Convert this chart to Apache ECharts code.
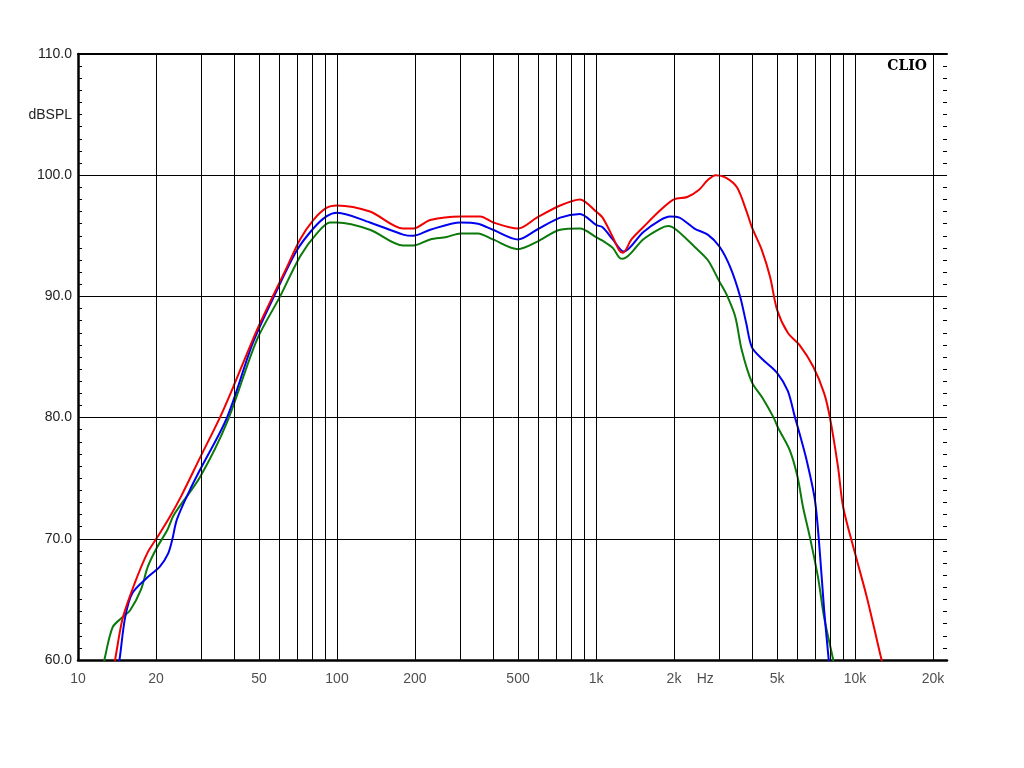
<!DOCTYPE html>
<html><head><meta charset="utf-8">
<script src="https://cdn.jsdelivr.net/npm/echarts@6/dist/echarts.min.js"></script>
<style>html,body{margin:0;padding:0;background:#fff}#c{width:1024px;height:768px}</style>
</head><body><div id="c"></div>
<script>
// Frequency (Hz) and level (dB SPL)
const redFreq = [13.6,13.9,14.9,16.6,18.5,20.2,22.6,25,29.6,35.3,39.7,49,56.5,64,72,81,91,100,134,180,197,229,300,357,401,500,591,727,867,1000,1060,1160,1230,1270,1370,1520,1770,2000,2250,2500,2700,2900,3170,3500,3800,4000,4370,4700,5000,5500,6100,6900,7600,8000,8600,9000,10000,11100,12600,13000];
const redDb   = [59.0,60.0,63.5,66.4,68.8,70.1,71.8,73.5,76.7,80.0,82.5,87.2,90.0,92.4,94.7,96.3,97.3,97.5,97.0,95.6,95.6,96.3,96.6,96.6,96.1,95.6,96.5,97.5,98.0,97.0,96.5,94.9,93.8,93.6,94.7,95.7,97.1,98.0,98.2,98.8,99.6,100.0,99.8,99.0,97.1,95.7,93.8,91.6,88.9,87.0,86.0,84.2,82.0,80.0,75.9,72.6,68.8,65.2,60.2,59.0];

const blueFreq = [14.2,14.5,15.2,16.2,18.5,20.7,22.3,23.1,24.1,27,29.6,37.6,47.4,58.6,70,81,91,100,134,180,197,229,300,350,400,500,591,727,867,1000,1060,1160,1280,1520,1770,1930,2100,2400,2700,3000,3300,3600,3800,4000,4400,5000,5500,5850,6050,6500,7000,7300,7600,7900,8050];
const blueDb   = [59.0,60.2,63.5,65.5,66.8,67.7,68.8,69.9,71.6,74.0,75.7,80.0,86.2,90.5,93.8,95.6,96.6,96.9,96.1,95.1,95.0,95.5,96.1,96.0,95.5,94.7,95.5,96.5,96.8,95.9,95.7,94.7,93.7,95.3,96.3,96.6,96.5,95.6,95.1,94.1,92.4,90.0,87.8,85.8,84.8,83.7,82.2,80.1,79.0,76.5,73.2,69.1,64.1,60.2,58.5];

const greenFreq = [12.4,12.7,13.6,14.8,15.9,17.5,18.6,20.2,22.1,23.5,29.6,37.6,49,60.3,72,83.6,94,100,134,180,197,229,265,300,350,400,500,591,727,867,1000,1060,1160,1230,1270,1520,1770,1900,2040,2400,2700,3000,3200,3450,3650,4000,4400,4850,5060,5600,6000,6300,6700,7200,7600,8200,8400];
const greenDb   = [59.0,60.2,62.7,63.5,64.1,65.8,67.7,69.3,70.7,72.0,75.1,79.6,86.4,90.0,93.3,95.2,96.1,96.1,95.5,94.2,94.2,94.7,94.9,95.2,95.2,94.7,93.9,94.5,95.5,95.6,94.9,94.6,94.0,93.2,93.1,94.7,95.6,95.8,95.5,94.1,93.0,91.2,90.1,88.3,85.6,82.9,81.6,80.0,79.1,77.3,75.1,72.6,70.1,66.8,63.5,60.2,59.0];

const gridFreqs = [20,30,40,50,60,70,80,90,100,200,300,400,500,600,700,800,900,1000,2000,3000,4000,5000,6000,7000,8000,9000,10000,20000];
const xTickFreqs  = [10,20,50,100,200,500,1000,2000,5000,10000,20000];
const xTickLabels = ['10','20','50','100','200','500','1k','2k','5k','10k','20k'];
const unitFreq = 2640, unitLabel = 'Hz';

const zip = (f, d) => f.map((v, i) => [v, d[i]]);
const chart = echarts.init(document.getElementById('c'), null, {renderer: 'canvas'});
const txt = '#222';
const font = 'Liberation Sans, Arial, sans-serif';
const curve = (name, f, d, color) => ({
  name, type: 'line', data: zip(f, d), smooth: 0.3, showSymbol: false, symbol: 'none',
  lineStyle: {color, width: 2}, clip: true, animation: false, silent: true, z: 3
});
const hideX = {axisLabel: {show: false}, axisTick: {show: false}, splitLine: {show: false}};
const tickAxis = pos => ({
  type: 'value', min: 60, max: 110, interval: 10, position: pos, offset: -4,
  axisLine: {show: false},
  axisTick: {show: true, inside: false, length: 4, lineStyle: {color: '#000'}},
  minorTick: {show: true, splitNumber: 10, length: 4, lineStyle: {color: '#000'}},
  splitLine: {show: false}, axisLabel: {show: false}
});
chart.setOption({
  animation: false,
  backgroundColor: '#fff',
  grid: {left: 78, right: 77, top: 54, bottom: 108, show: false},
  xAxis: [{
    type: 'log', logBase: 10, min: 10, max: 22650, position: 'bottom', ...hideX,
    axisLine: {show: true, onZero: false, lineStyle: {color: '#000', width: 2.5}}
  }, {
    type: 'log', logBase: 10, min: 10, max: 22650, position: 'top', ...hideX,
    axisLine: {show: true, onZero: false, lineStyle: {color: '#000', width: 2}}
  }],
  yAxis: [{
    type: 'value', min: 60, max: 110, interval: 10, position: 'left',
    axisLine: {show: true, onZero: false, lineStyle: {color: '#000', width: 2.5}},
    axisTick: {show: false}, minorTick: {show: false},
    splitLine: {show: true, lineStyle: {color: '#000', width: 1}},
    axisLabel: {formatter: v => v.toFixed(1), margin: 6, fontSize: 14, color: txt, fontFamily: font}
  }, tickAxis('left'), tickAxis('right')],
  graphic: [
    {type: 'text', style: {text: 'dBSPL', x: 72, y: 115, align: 'right', verticalAlign: 'middle', font: '14px "Liberation Sans", Arial, sans-serif', fill: txt}},
    {type: 'text', style: {text: 'CLIO', x: 927, y: 66, align: 'right', verticalAlign: 'middle', font: 'bold 14px "DejaVu Serif", serif', fill: '#000'}}
  ],
  series: [
    {
      name: 'grid', type: 'line', data: [[10, 60]], showSymbol: false, symbol: 'none', silent: true, z: 1,
      lineStyle: {width: 0},
      markLine: {
        silent: true, symbol: ['none', 'none'], animation: false, label: {show: false},
        lineStyle: {color: '#000', width: 1, type: 'solid'},
        emphasis: {disabled: true},
        data: gridFreqs.map(f => ({xAxis: f}))
      }
    },
    {
      name: 'xlabels', type: 'scatter', symbolSize: 0, clip: false, silent: true, z: 4,
      data: xTickFreqs.map((f, i) => [f, 60, xTickLabels[i]]).concat([[unitFreq, 60, unitLabel]]),
      label: {show: true, position: 'bottom', distance: 12, formatter: p => p.data[2], fontSize: 14, color: txt, fontFamily: font}
    },
    curve('green', greenFreq, greenDb, '#0b7a0b'),
    curve('blue', blueFreq, blueDb, '#0000f0'),
    curve('red', redFreq, redDb, '#f00000')
  ]
});
</script></body></html>
